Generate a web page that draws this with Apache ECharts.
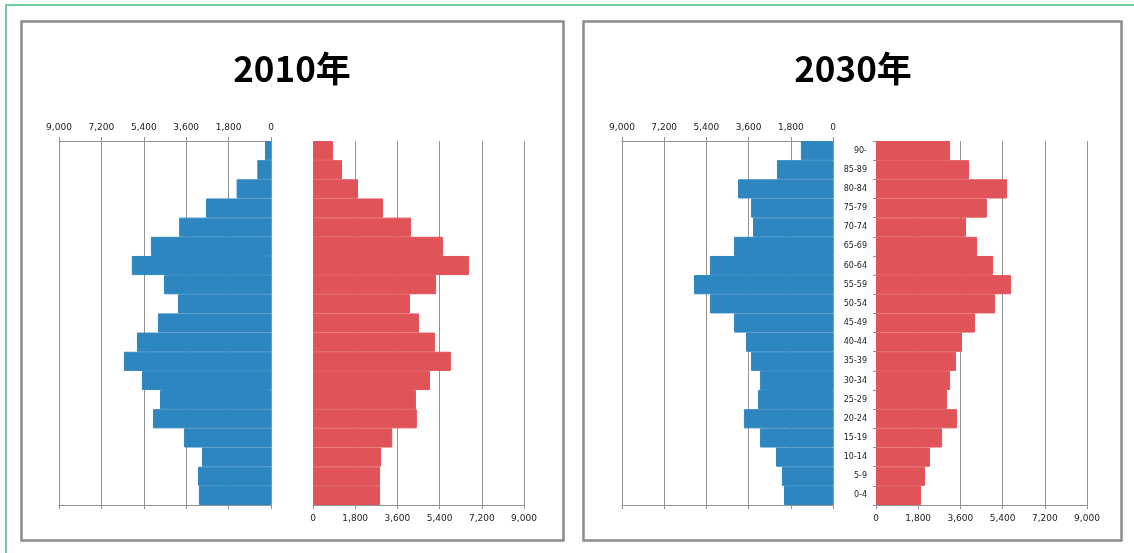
<!DOCTYPE html>
<html>
<head>
<meta charset="utf-8">
<script src="https://cdn.jsdelivr.net/npm/echarts@6/dist/echarts.min.js"></script>
<style>
  html, body { margin: 0; padding: 0; background: #fff; }
  #chart { width: 1134px; height: 553px; }
</style>
</head>
<body>
<div id="chart"></div>
<script>
// Age groups, oldest at the top
const ageGroups = ['90-', '85-89', '80-84', '75-79', '70-74', '65-69', '60-64', '55-59', '50-54',
  '45-49', '40-44', '35-39', '30-34', '25-29', '20-24', '15-19', '10-14', '5-9', '0-4'];

// Population by age group
const male2010 = [255, 580, 1460, 2760, 3900, 5100, 5910, 4540, 3950, 4800, 5690, 6240, 5480, 4710, 5010, 3690, 2930, 3100, 3060];
const female2010 = [850, 1240, 1920, 2990, 4180, 5550, 6650, 5250, 4140, 4520, 5200, 5880, 4990, 4390, 4430, 3380, 2900, 2860, 2860];
const male2030 = [1370, 2390, 4050, 3500, 3410, 4220, 5250, 5930, 5250, 4220, 3710, 3500, 3110, 3200, 3800, 3110, 2430, 2180, 2090];
const female2030 = [3160, 3970, 5590, 4730, 3840, 4310, 4990, 5760, 5080, 4220, 3670, 3410, 3160, 3030, 3460, 2820, 2300, 2090, 1920];

// Value axis range shared by every panel
const axisMax = 9000;
const axisStep = 1800;

const gridColor = '#929292';
const labelFont = { fontSize: 9, color: '#1a1a1a', fontFamily: 'DejaVu Sans' };
const fmt = v => v.toLocaleString('en-US');

const grids = [
  { left: 59, top: 141, width: 212, height: 364 },   // 2010 male
  { left: 313, top: 141, width: 211, height: 364 },  // 2010 female
  { left: 622, top: 141, width: 211, height: 364 },  // 2030 male
  { left: 876, top: 141, width: 211, height: 364 }   // 2030 female
];

function valueAxis(gridIndex, inverse, position, withLabels) {
  return {
    type: 'value', gridIndex, inverse, position,
    min: 0, max: axisMax, interval: axisStep,
    axisLine: { show: true, lineStyle: { color: gridColor, width: 1 } },
    axisTick: { show: true, inside: false, length: 4, lineStyle: { color: gridColor } },
    axisLabel: Object.assign({ show: withLabels, formatter: fmt, margin: 9 }, labelFont),
    splitLine: { show: withLabels, lineStyle: { color: gridColor, width: 1 } }
  };
}

const xAxes = [
  valueAxis(0, true, 'top', true),
  valueAxis(0, true, 'bottom', false),
  valueAxis(1, false, 'bottom', true),
  valueAxis(2, true, 'top', true),
  valueAxis(2, true, 'bottom', false),
  valueAxis(3, false, 'bottom', true)
];

function categoryAxis(gridIndex, withLabels) {
  return {
    type: 'category', gridIndex, data: ageGroups, inverse: true, position: 'left',
    axisLine: { show: false },
    axisTick: { show: withLabels, length: 3, lineStyle: { color: gridColor } },
    axisLabel: { show: withLabels, fontSize: 8, color: '#1a1a1a', fontFamily: 'DejaVu Sans', margin: 9 },
    splitLine: { show: false }
  };
}

const yAxes = [categoryAxis(0, false), categoryAxis(1, false), categoryAxis(2, false), categoryAxis(3, true)];

const blue = '#2e86c1';
const red = '#e05359';

function bars(name, data, xAxisIndex, yAxisIndex, color) {
  return {
    name, type: 'bar', data, xAxisIndex, yAxisIndex,
    barCategoryGap: '0%', silent: true, animation: false,
    itemStyle: { color, borderColor: color, borderWidth: 1 }
  };
}

const option = {
  animation: false,
  grid: grids,
  xAxis: xAxes,
  yAxis: yAxes,
  series: [
    bars('男 2010', male2010, 0, 0, blue),
    bars('女 2010', female2010, 2, 1, red),
    bars('男 2030', male2030, 3, 2, blue),
    bars('女 2030', female2030, 5, 3, red)
  ],
  graphic: [
    { type: 'polyline', silent: true, shape: { points: [[6, 553], [6, 5], [1134, 5]] },
      style: { stroke: '#72cc9f', lineWidth: 2, fill: null } },
    { type: 'rect', silent: true, shape: { x: 21.5, y: 21.5, width: 542, height: 519 },
      style: { fill: null, stroke: '#8c8c8c', lineWidth: 2.5 } },
    { type: 'rect', silent: true, shape: { x: 583.5, y: 21.5, width: 538, height: 519 },
      style: { fill: null, stroke: '#8c8c8c', lineWidth: 2.5 } },
    { type: 'text', silent: true, x: 292, y: 69,
      style: { text: '2010年', fill: '#000', font: 'bold 35px "Noto Sans CJK JP"', align: 'center', verticalAlign: 'middle' } },
    { type: 'text', silent: true, x: 853, y: 69,
      style: { text: '2030年', fill: '#000', font: 'bold 35px "Noto Sans CJK JP"', align: 'center', verticalAlign: 'middle' } }
  ]
};

const chart = echarts.init(document.getElementById('chart'), null, { renderer: 'canvas' });
chart.setOption(option);
</script>
</body>
</html>
